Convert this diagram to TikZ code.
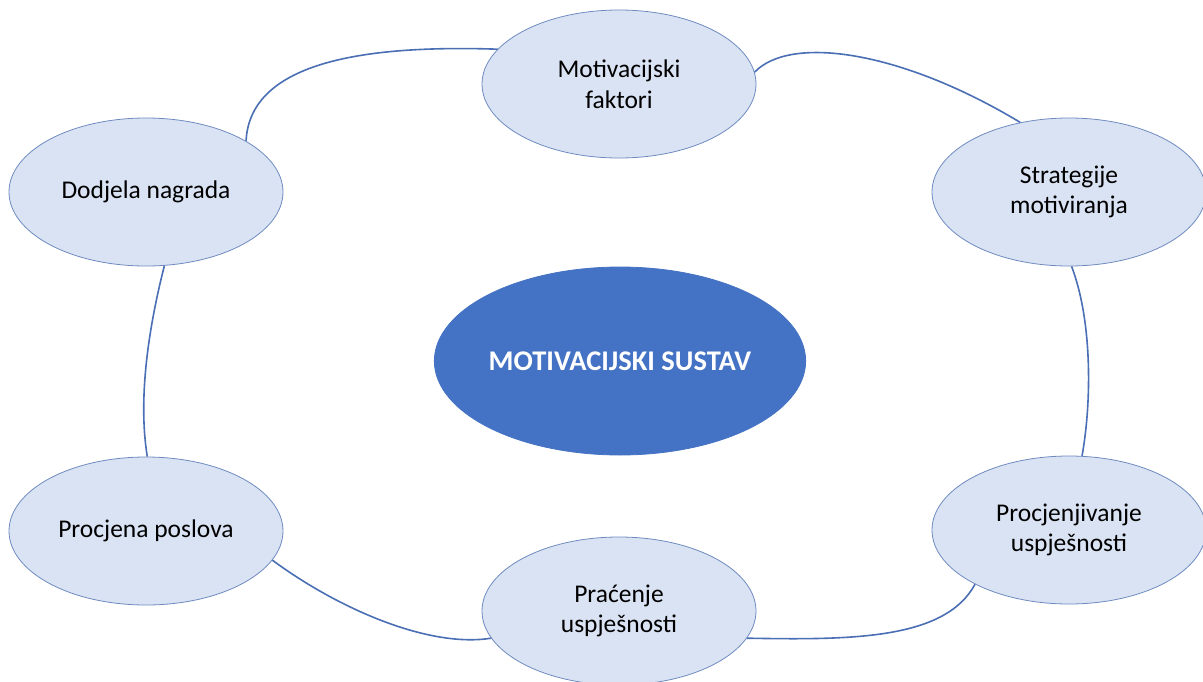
\documentclass[tikz,border=0pt]{standalone}
\usepackage{fontspec}
\setmainfont{Carlito}
\usetikzlibrary{shapes.geometric}
\definecolor{lightfill}{HTML}{DAE3F3}
\definecolor{accent}{HTML}{4472C4}
\definecolor{edgeline}{HTML}{4A6FB5}
\definecolor{rimline}{HTML}{6F8BC0}
\tikzset{
  topic/.style={ellipse, draw=rimline, line width=0.8pt, fill=lightfill,
    minimum width=274pt, minimum height=148pt, inner sep=0pt, align=center,
    font=\fontsize{25.5}{30.5}\selectfont, text=black},
  core/.style={ellipse, draw=accent, line width=0.8pt, fill=accent,
    minimum width=370pt, minimum height=188pt, inner sep=0pt, align=center,
    font=\fontsize{28.5}{32}\selectfont\bfseries, text=white},
  link/.style={draw=edgeline, line width=1.6pt}
}
\begin{document}
\begin{tikzpicture}[x=1pt,y=-1pt]
\useasboundingbox (0,0) rectangle (1203,681);
\fill[white] (0,0) rectangle (1203,681);

\node[topic] (mf) at (619,84) {Motivacijski\\faktori};
\node[topic] (sm) at (1069,192) {Strategije\\motiviranja};
\node[topic] (dn) at (146,192) {Dodjela nagrada};
\node[core]  (ms) at (620,361) {MOTIVACIJSKI SUSTAV};
\node[topic] (pp) at (146,531) {Procjena poslova};
\node[topic] (pu) at (1069,530) {Procjenjivanje\\uspješnosti};
\node[topic] (pr) at (619,611) {Praćenje\\uspješnosti};

\draw[link] (dn.27) .. controls (250,60) and (370,45) .. (mf.164);
\draw[link] (mf.5) .. controls (790,35) and (900,50) .. (sm.125);
\draw[link] (sm.-88) .. controls (1092,320) and (1092,400) .. (pu.80);
\draw[link] (pu.210) .. controls (945,640) and (850,640) .. (pr.348);
\draw[link] (pr.192) .. controls (430,648) and (340,610) .. (pp.347);
\draw[link] (pp.89) .. controls (138,400) and (148,330) .. (dn.-76);
\end{tikzpicture}
\end{document}
